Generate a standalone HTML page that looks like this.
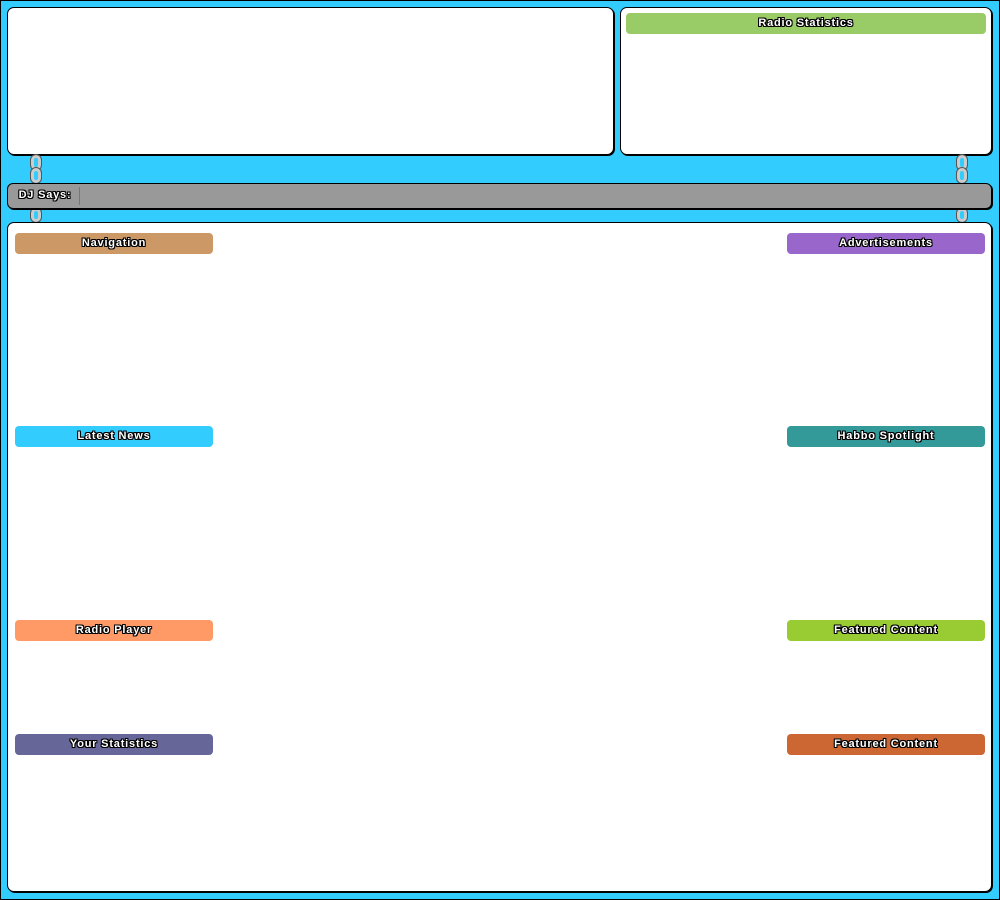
<!DOCTYPE html>
<html><head><style>
*{margin:0;padding:0;box-sizing:border-box}
body{width:1000px;height:900px;background:#33ccff;position:relative;overflow:hidden;font-family:"Liberation Sans",sans-serif}
.frame{position:absolute;left:0;top:0;width:1000px;height:900px;border:1px solid #000}
.box{position:absolute;background:#fff;border:1px solid #000;border-radius:7px;box-shadow:1px 1px 0 #000}
.h{position:absolute;height:21px;border-radius:4px;color:#fff;font-weight:bold;font-size:11px;line-height:21px;text-align:center;letter-spacing:0.8px;text-shadow:1px 0 0 #000,-1px 0 0 #000,0 1px 0 #000,0 -1px 0 #000,1px 1px 0 #000,-1px -1px 0 #000,1px -1px 0 #000,-1px 1px 0 #000}
.chain{position:absolute;width:10px;border:3px solid #ccc;border-radius:5px;outline:1px solid #555}
.dj{position:absolute;left:7px;top:183px;width:985px;height:26px;background:#999;border:1px solid #000;border-radius:6px;box-shadow:1px 1px 0 #000}
</style></head><body>
<div class="frame"></div>
<div class="box" style="left:7px;top:7px;width:607px;height:148px"></div>
<div class="box" style="left:620px;top:7px;width:372px;height:148px"></div>
<div class="h" style="left:626px;top:13px;width:360px;background:#99cc66">Radio Statistics</div>

<div class="chain" style="left:31px;top:155px;height:15px"></div>
<div class="chain" style="left:31px;top:168px;height:15px"></div>
<div class="chain" style="left:957px;top:155px;height:15px"></div>
<div class="chain" style="left:957px;top:168px;height:15px"></div>
<div class="chain" style="left:31px;top:208px;height:14px"></div>
<div class="chain" style="left:957px;top:208px;height:14px"></div>

<div class="dj"><div class="h" style="left:4px;top:1px;width:66px;background:transparent">DJ Says:</div><div style="position:absolute;left:71px;top:3px;width:1px;height:18px;background:#777"></div></div>

<div class="box" style="left:7px;top:222px;width:985px;height:670px"></div>
<div class="h" style="left:15px;top:233px;width:198px;background:#cc9966">Navigation</div>
<div class="h" style="left:787px;top:233px;width:198px;background:#9966cc">Advertisements</div>
<div class="h" style="left:15px;top:426px;width:198px;background:#33ccff">Latest News</div>
<div class="h" style="left:787px;top:426px;width:198px;background:#339999">Habbo Spotlight</div>
<div class="h" style="left:15px;top:620px;width:198px;background:#ff9966">Radio Player</div>
<div class="h" style="left:787px;top:620px;width:198px;background:#99cc33">Featured Content</div>
<div class="h" style="left:15px;top:734px;width:198px;background:#666699">Your Statistics</div>
<div class="h" style="left:787px;top:734px;width:198px;background:#cc6633">Featured Content</div>
</body></html>
